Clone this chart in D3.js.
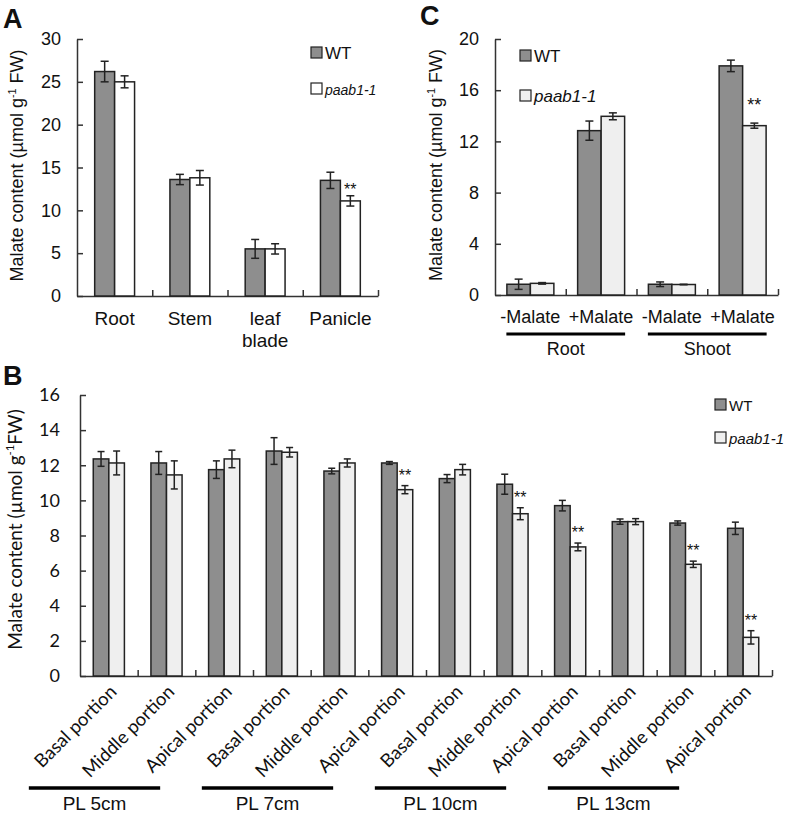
<!DOCTYPE html>
<html>
<head>
<meta charset="utf-8">
<script src="https://cdn.jsdelivr.net/npm/d3@7"></script>
<style>
  body { margin: 0; background: #fff; }
  svg { font-family: "Liberation Sans", Arial, sans-serif; }
  text { fill: #111; }
</style>
</head>
<body>
<svg id="fig" width="788" height="813"></svg>
<script>
// panel A: tissues
let cats_a = ['Root', 'Stem', 'leaf blade', 'Panicle'];
let wt_a = [26.2, 13.6, 5.5, 13.5];
let wt_err_a = [1.2, 0.6, 1.1, 0.95];
let mut_a = [25.0, 13.8, 5.5, 11.1];
let mut_err_a = [0.7, 0.85, 0.6, 0.6];
let sig_a = ['', '', '', '**'];
let ticks_a = [0, 5, 10, 15, 20, 25, 30];

// panel C: malate feeding
let cats_c = ['-Malate', '+Malate', '-Malate', '+Malate'];
let wt_c = [0.84, 12.84, 0.84, 17.9];
let wt_err_c = [0.4, 0.75, 0.18, 0.45];
let mut_c = [0.91, 13.96, 0.82, 13.23];
let mut_err_c = [0.06, 0.27, 0.02, 0.2];
let sig_c = ['', '', '', '**'];
let groups_c = ['Root', 'Shoot'];
let ticks_c = [0, 4, 8, 12, 16, 20];

// panel B: panicle portions
let cats_b = ['Basal portion', 'Middle portion', 'Apical portion',
  'Basal portion', 'Middle portion', 'Apical portion',
  'Basal portion', 'Middle portion', 'Apical portion',
  'Basal portion', 'Middle portion', 'Apical portion'];
let wt_b = [12.36, 12.13, 11.75, 12.81, 11.67, 12.13, 11.24, 10.92, 9.7, 8.79, 8.71, 8.41];
let wt_err_b = [0.42, 0.65, 0.5, 0.76, 0.16, 0.08, 0.23, 0.57, 0.3, 0.15, 0.12, 0.35];
let mut_b = [12.13, 11.45, 12.36, 12.74, 12.13, 10.61, 11.75, 9.24, 7.35, 8.79, 6.36, 2.2];
let mut_err_b = [0.68, 0.8, 0.5, 0.27, 0.23, 0.23, 0.3, 0.34, 0.22, 0.17, 0.18, 0.38];
let sig_b = ['', '', '', '', '', '**', '', '**', '**', '', '**', '**'];
let groups_b = ['PL 5cm', 'PL 7cm', 'PL 10cm', 'PL 13cm'];
let ticks_b = [0, 2, 4, 6, 8, 10, 12, 14, 16];

let series = ['WT', 'paab1-1'];
let wt_color = '#8e8e8e';
let line_color = '#222';
let arial = '"Liberation Sans", Arial, sans-serif';
let calib = 'Lato, "Open Sans", sans-serif';

let svg = d3.select('#fig');
svg.append('rect').attr('width', 788).attr('height', 813).attr('fill', '#fff');

function draw_panel(p) {
  let g = svg.append('g');
  let n = p.wt.length;
  let idx = d3.range(n);

  let y = d3.scaleLinear().domain(p.y_domain).range([p.bottom, p.top]);
  let x = d3.scaleBand().domain(idx).range([p.left, p.right])
    .paddingInner(p.pad).paddingOuter(p.pad / 2);
  let xs = d3.scaleBand().domain([0, 1]).range([0, x.bandwidth()]);

  // y axis, inward ticks
  let ya = g.append('g')
    .attr('transform', `translate(${p.left},0)`)
    .call(d3.axisLeft(y).tickValues(p.ticks).tickSizeInner(-6).tickSizeOuter(0).tickPadding(p.tick_pad));
  ya.select('.domain').attr('stroke', '#333').attr('stroke-width', 1.5);
  ya.selectAll('.tick line').attr('stroke', '#333').attr('stroke-width', 1.5);
  ya.selectAll('.tick text').attr('fill', '#111')
    .style('font-size', p.tick_size + 'px').style('font-family', p.font);

  // x axis with ticks between categories
  let xb = d3.scaleLinear().domain([0, n]).range([p.left, p.right]);
  let xa = g.append('g')
    .attr('transform', `translate(0,${p.bottom})`)
    .call(d3.axisBottom(xb).tickValues(d3.range(1, n + 1)).tickSizeInner(-6).tickSizeOuter(0).tickFormat(''));
  xa.select('.domain').attr('stroke', '#333').attr('stroke-width', 1.5);
  xa.selectAll('.tick line').attr('stroke', '#333').attr('stroke-width', 1.5);

  let vals = [p.wt, p.mut];
  let errs = [p.wt_err, p.mut_err];
  let fills = [wt_color, p.mut_fill];

  [0, 1].forEach(s => {
    g.selectAll('.bar-' + s)
      .data(idx)
      .enter().append('rect')
      .attr('x', i => x(i) + xs(s))
      .attr('y', i => y(vals[s][i]))
      .attr('width', xs.bandwidth())
      .attr('height', i => p.bottom - y(vals[s][i]))
      .attr('fill', fills[s])
      .attr('stroke', line_color)
      .attr('stroke-width', 1.5);
  });

  [0, 1].forEach(s => {
    let eb = g.selectAll('.err-' + s)
      .data(idx)
      .enter().append('g')
      .attr('transform', i => `translate(${x(i) + xs(s) + xs.bandwidth() / 2},0)`);
    eb.append('line')
      .attr('y1', i => y(vals[s][i] + errs[s][i]))
      .attr('y2', i => y(vals[s][i] - errs[s][i]))
      .attr('stroke', line_color).attr('stroke-width', 1.5);
    [1, -1].forEach(k => {
      eb.append('line')
        .attr('x1', -p.cap).attr('x2', p.cap)
        .attr('y1', i => y(vals[s][i] + k * errs[s][i]))
        .attr('y2', i => y(vals[s][i] + k * errs[s][i]))
        .attr('stroke', line_color).attr('stroke-width', 1.5);
    });
  });

  // significance marks
  g.selectAll('.sig')
    .data(idx.filter(i => p.sig[i]))
    .enter().append('text')
    .attr('x', i => x(i) + xs(1) + xs.bandwidth() / 2)
    .attr('y', i => y(p.mut[i] + p.mut_err[i]) - p.sig_gap)
    .attr('text-anchor', 'middle')
    .style('font-size', p.sig_size + 'px')
    .text(i => p.sig[i]);

  // y label
  let yl = g.append('text')
    .attr('transform', `translate(${p.ylab_x},${(p.top + p.bottom) / 2 + p.ylab_dy}) rotate(-90)`)
    .attr('text-anchor', 'middle')
    .style('font-size', p.ylab_size + 'px')
    .style('font-family', p.font);
  yl.append('tspan').text('Malate content (\u00b5mol g');
  yl.append('tspan').style('font-size', (p.ylab_size * 0.6) + 'px').attr('dy', -p.ylab_size * 0.4).text('-1');
  yl.append('tspan').attr('dy', p.ylab_size * 0.4).text(p.ylab_tail);

  // legend
  series.forEach((nm, s) => {
    let ly = p.leg_y + s * p.leg_gap;
    g.append('rect')
      .attr('x', p.leg_x).attr('y', ly - p.leg_box)
      .attr('width', p.leg_box).attr('height', p.leg_box)
      .attr('fill', fills[s]).attr('stroke', line_color).attr('stroke-width', 1.2);
    g.append('text')
      .attr('x', p.leg_x + p.leg_box + 3).attr('y', ly + 1)
      .style('font-size', (s ? p.leg_size2 : p.leg_size) + 'px')
      .style('font-style', s ? 'italic' : 'normal')
      .text(nm);
  });

  // panel letter
  g.append('text')
    .attr('x', p.letter_x).attr('y', p.letter_y)
    .style('font-size', '27px').style('font-weight', 'bold')
    .text(p.letter);

  return {x: x, y: y, g: g};
}

// ---- A ----
let pa = draw_panel({
  wt: wt_a, wt_err: wt_err_a, mut: mut_a, mut_err: mut_err_a, sig: sig_a,
  y_domain: [0, 30], ticks: ticks_a, top: 39, bottom: 296, left: 77, right: 378,
  pad: 0.47, mut_fill: '#fff', cap: 4, tick_pad: 16, tick_size: 18,
  font: arial, sig_gap: 1, sig_size: 16,
  ylab_x: 23, ylab_dy: -2, ylab_size: 18, ylab_tail: ' FW)',
  leg_x: 311, leg_y: 58, leg_gap: 36, leg_box: 11, leg_size: 17, leg_size2: 14,
  letter: 'A', letter_x: 3, letter_y: 28
});
cats_a.forEach((c, i) => {
  let cx = pa.x(i) + pa.x.bandwidth() / 2;
  let t = pa.g.append('text')
    .attr('x', cx).attr('y', 325)
    .attr('text-anchor', 'middle').style('font-size', '19px');
  c.split(' ').forEach((w, k) => {
    t.append('tspan').attr('x', cx).attr('dy', k ? 22 : 0).text(w);
  });
});

// ---- C ----
let pc = draw_panel({
  wt: wt_c, wt_err: wt_err_c, mut: mut_c, mut_err: mut_err_c, sig: sig_c,
  y_domain: [0, 20], ticks: ticks_c, top: 39, bottom: 295, left: 495, right: 778,
  pad: 0.336, mut_fill: '#efefef', cap: 4, tick_pad: 16, tick_size: 18,
  font: arial, sig_gap: 12, sig_size: 18,
  ylab_x: 442, ylab_dy: -2, ylab_size: 18, ylab_tail: ' FW)',
  leg_x: 520, leg_y: 61, leg_gap: 40, leg_box: 11, leg_size: 17, leg_size2: 17,
  letter: 'C', letter_x: 420, letter_y: 25
});
cats_c.forEach((c, i) => {
  pc.g.append('text')
    .attr('x', pc.x(i) + pc.x.bandwidth() / 2).attr('y', 323)
    .attr('text-anchor', 'middle').style('font-size', '18px')
    .text(c);
});
groups_c.forEach((gname, k) => {
  let c0 = pc.x(2 * k) + pc.x.bandwidth() / 2;
  let c1 = pc.x(2 * k + 1) + pc.x.bandwidth() / 2;
  pc.g.append('line')
    .attr('x1', c0 - 24).attr('x2', c1 + 24)
    .attr('y1', 334).attr('y2', 334)
    .attr('stroke', '#000').attr('stroke-width', 3);
  pc.g.append('text')
    .attr('x', (c0 + c1) / 2).attr('y', 355)
    .attr('text-anchor', 'middle').style('font-size', '18px')
    .text(gname);
});

// ---- B ----
let pb = draw_panel({
  wt: wt_b, wt_err: wt_err_b, mut: mut_b, mut_err: mut_err_b, sig: sig_b,
  y_domain: [0, 16], ticks: ticks_b, top: 395, bottom: 676, left: 80, right: 772,
  pad: 0.46, mut_fill: '#efefef', cap: 3.5, tick_pad: 20, tick_size: 18,
  font: calib, sig_gap: 5, sig_size: 16,
  ylab_x: 22, ylab_dy: -6, ylab_size: 19, ylab_tail: 'FW)',
  leg_x: 715, leg_y: 410, leg_gap: 33, leg_box: 11, leg_size: 15, leg_size2: 15,
  letter: 'B', letter_x: 3, letter_y: 385
});
cats_b.forEach((c, i) => {
  let cx = pb.x(i) + pb.x.bandwidth() / 2;
  pb.g.append('text')
    .attr('transform', `translate(${cx + 9},${693}) rotate(-45)`)
    .attr('text-anchor', 'end')
    .style('font-size', '18.5px').style('font-family', calib)
    .text(c);
});
groups_b.forEach((gname, k) => {
  let c0 = pb.x(3 * k) + pb.x.bandwidth() / 2;
  let c1 = pb.x(3 * k + 2) + pb.x.bandwidth() / 2;
  let x1 = c0 - 80, x2 = c1 - 64;
  pb.g.append('line')
    .attr('x1', x1).attr('x2', x2)
    .attr('y1', 788).attr('y2', 788)
    .attr('stroke', '#000').attr('stroke-width', 3.5);
  pb.g.append('text')
    .attr('x', (x1 + x2) / 2).attr('y', 810)
    .attr('text-anchor', 'middle').style('font-size', '19px')
    .text(gname);
});
</script>
</body>
</html>
